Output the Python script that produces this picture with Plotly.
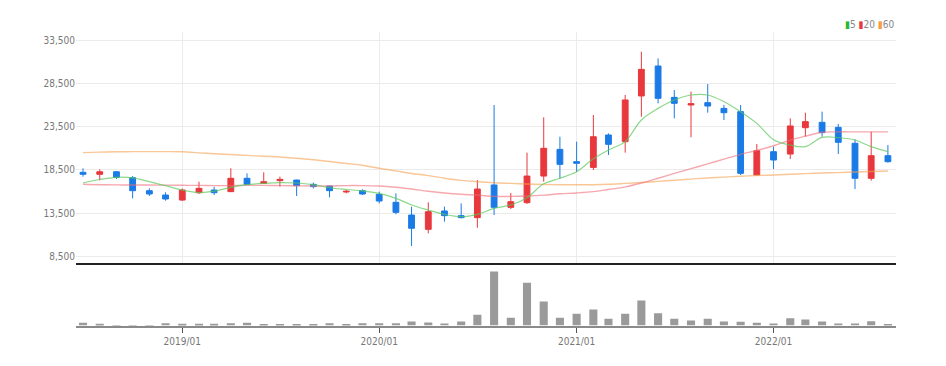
import plotly.graph_objects as go

dates = [
    "2018-07-01", "2018-08-01", "2018-09-01", "2018-10-01", "2018-11-01", "2018-12-01",
    "2019-01-01", "2019-02-01", "2019-03-01", "2019-04-01", "2019-05-01", "2019-06-01",
    "2019-07-01", "2019-08-01", "2019-09-01", "2019-10-01", "2019-11-01", "2019-12-01",
    "2020-01-01", "2020-02-01", "2020-03-01", "2020-04-01", "2020-05-01", "2020-06-01",
    "2020-07-01", "2020-08-01", "2020-09-01", "2020-10-01", "2020-11-01", "2020-12-01",
    "2021-01-01", "2021-02-01", "2021-03-01", "2021-04-01", "2021-05-01", "2021-06-01",
    "2021-07-01", "2021-08-01", "2021-09-01", "2021-10-01", "2021-11-01", "2021-12-01",
    "2022-01-01", "2022-02-01", "2022-03-01", "2022-04-01", "2022-05-01", "2022-06-01",
    "2022-07-01", "2022-08-01",
]

open_ = [18230, 18000, 18300, 17610, 16110, 15610, 15030, 15880, 16190, 16000,
         17540, 16960, 17270, 17340, 16840, 16650, 15960, 16110, 15690, 14770,
         13300, 11650, 13770, 13230, 13000, 16770, 14190, 14730, 17800, 20880,
         19460, 18800, 22540, 21770, 27040, 30500, 26880, 26000, 26270, 25610,
         25230, 17920, 20610, 20340, 23380, 24000, 23420, 21580, 17540, 20150]
high = [18690, 18575, 18380, 17800, 16380, 15920, 16380, 17150, 16570, 18690,
        18110, 18230, 17730, 17380, 17040, 16650, 16190, 16270, 16000, 15800,
        14260, 14770, 14270, 14650, 17340, 26000, 15840, 20500, 24580, 22340,
        21770, 24840, 22730, 27150, 32150, 31380, 27730, 27540, 28420, 26000,
        26000, 21500, 21190, 24460, 25110, 25230, 23810, 22040, 22920, 21380]
low = [17730, 17300, 17460, 15230, 15500, 14960, 14920, 15730, 15610, 15960,
       16770, 16880, 16580, 15500, 16380, 15340, 15800, 15610, 14650, 13380,
       9730, 11190, 12540, 12920, 11840, 13300, 14000, 14570, 17150, 17500,
       18300, 18500, 20230, 20500, 24650, 26190, 24460, 22270, 25110, 24270,
       17920, 17920, 18600, 19770, 22340, 22340, 20340, 16300, 17270, 19340]
close = [18000, 18300, 17650, 16110, 15730, 15150, 16190, 16380, 15880, 17540,
         16840, 17150, 17420, 16690, 16580, 16110, 16040, 15730, 14920, 13610,
         11770, 13690, 13230, 13000, 16300, 14190, 14840, 17800, 21000, 19150,
         19270, 22340, 21460, 26580, 30110, 26770, 26190, 26150, 25880, 25110,
         18110, 20730, 19650, 23580, 24080, 22810, 21690, 17540, 20150, 19460]

ma5 = [17000, 17400, 17650, 17600, 17150, 16700, 16190, 15900, 16050, 16500,
       16800, 16960, 17050, 17000, 16800, 16450, 16250, 16100, 15800, 15230,
       14460, 13880, 13380, 13110, 13380, 14070, 14460, 15300, 16900, 17550,
       18300, 19800, 20800, 21770, 24270, 25610, 26580, 27150, 27150, 26380,
       25230, 23880, 22000, 21380, 21190, 22270, 22230, 21960, 21190, 20610]
ma20 = [16850, 16800, 16780, 16770, 16760, 16750, 16730, 16720, 16700, 16700,
        16720, 16720, 16700, 16680, 16650, 16650, 16700, 16700, 16650, 16500,
        16300, 16050, 15850, 15700, 15600, 15450, 15450, 15500, 15600, 15750,
        15850, 16000, 16250, 16550, 17000, 17550, 18100, 18650, 19200, 19750,
        20300, 20750, 21300, 21950, 22400, 22850, 22900, 22900, 22900, 22900]
ma60 = [20500, 20560, 20600, 20620, 20620, 20620, 20600, 20480, 20380, 20280,
        20180, 20080, 20000, 19850, 19680, 19480, 19250, 19050, 18700, 18400,
        18100, 17850, 17550, 17300, 17150, 17030, 16950, 16880, 16830, 16800,
        16790, 16800, 16850, 16950, 17050, 17180, 17320, 17450, 17580, 17680,
        17780, 17860, 17920, 18000, 18080, 18150, 18200, 18260, 18320, 18380]

volume = [270000, 170000, 30000, 30000, 30000, 230000, 170000, 170000, 170000, 230000,
          270000, 130000, 130000, 130000, 130000, 230000, 130000, 230000, 230000, 230000,
          400000, 300000, 200000, 400000, 1070000, 5400000, 770000, 4270000, 2400000, 770000,
          1170000, 1600000, 670000, 1170000, 2500000, 1230000, 670000, 500000, 670000, 400000,
          370000, 270000, 200000, 730000, 600000, 400000, 200000, 200000, 430000, 100000]

year_ticks = ["2019-01-01", "2020-01-01", "2021-01-01", "2022-01-01"]
year_labels = ["2019/01", "2020/01", "2021/01", "2022/01"]
price_ticks = [8500, 13500, 18500, 23500, 28500, 33500]

RED = "#e8383d"
BLUE = "#1a7be6"
FONT = "DejaVu Sans Condensed, Liberation Sans Narrow, Arial Narrow, Liberation Sans, sans-serif"

# page body has an 8px margin; figure sized to fit the 946x366 window
OFF = 8
W, H = 946 - OFF, 366 - OFF


def fy(px_screen):
    return 1 - (px_screen - OFF) / H


fig = go.Figure()
fig.add_trace(go.Scatter(x=dates, y=ma60, mode="lines", hoverinfo="skip",
                         line=dict(color="rgba(245,160,80,0.6)", width=1.4, shape="spline"),
                         xaxis="x", yaxis="y"))
fig.add_trace(go.Scatter(x=dates, y=ma20, mode="lines", hoverinfo="skip",
                         line=dict(color="rgba(240,110,120,0.6)", width=1.4, shape="spline"),
                         xaxis="x", yaxis="y"))
fig.add_trace(go.Scatter(x=dates, y=ma5, mode="lines", hoverinfo="skip",
                         line=dict(color="rgba(90,200,90,0.7)", width=1.2, shape="spline"),
                         xaxis="x", yaxis="y"))
fig.add_trace(go.Candlestick(
    x=dates, open=open_, high=high, low=low, close=close,
    increasing=dict(line=dict(color=RED, width=1), fillcolor=RED),
    decreasing=dict(line=dict(color=BLUE, width=1), fillcolor=BLUE),
    whiskerwidth=0, xaxis="x", yaxis="y"))
fig.add_trace(go.Bar(x=dates, y=volume, marker=dict(color="#9a9a9a", line=dict(width=0)),
                     width=15 * 86400000, xaxis="x2", yaxis="y2"))

x_range = ["2018-06-18", "2022-08-16"]
fig.update_layout(
    width=W, height=H,
    template="none",
    paper_bgcolor="white", plot_bgcolor="white",
    margin=dict(l=76 - OFF, r=946 - 896, t=0, b=0),
    showlegend=False,
    boxgap=0.45,
    font=dict(family=FONT, size=10, color="#777"),
    xaxis=dict(domain=[0, 1], anchor="y", type="date", range=x_range,
               tickvals=year_ticks, showticklabels=False, ticks="",
               showgrid=True, gridcolor="#ececec", gridwidth=1,
               showline=True, linecolor="#222", linewidth=2,
               zeroline=False, rangeslider=dict(visible=False), automargin=False),
    yaxis=dict(domain=[fy(263), fy(32)], anchor="x", range=[7766, 34423],
               tickvals=price_ticks, tickformat=",", ticks="",
               showgrid=True, gridcolor="#ebebeb", gridwidth=1,
               zeroline=False, showline=False, automargin=False,
               tickfont=dict(family=FONT, size=10, color="#777")),
    xaxis2=dict(domain=[0, 1], anchor="y2", type="date", range=x_range, matches="x",
                tickvals=year_ticks, ticktext=year_labels,
                ticks="outside", ticklen=5, tickcolor="#555", tickwidth=1,
                showgrid=False, showline=True, linecolor="#8a8a8a", linewidth=2,
                zeroline=False, automargin=False,
                tickfont=dict(family=FONT, size=10, color="#777")),
    yaxis2=dict(domain=[fy(325.5), fy(266)], anchor="x2", range=[0, 5950000],
                showticklabels=False, showgrid=False, zeroline=False,
                showline=False, ticks="", automargin=False),
)

fig.add_annotation(
    xref="paper", yref="paper", x=1, y=fy(25), xanchor="right", yanchor="middle",
    showarrow=False,
    text=('<span style="color:#2cb82c">▮</span>5 '
          '<span style="color:#e8383d">▮</span>20 '
          '<span style="color:#f59c3c">▮</span>60'),
    font=dict(family=FONT, size=10, color="#888"),
)

fig.write_html("out.html")
